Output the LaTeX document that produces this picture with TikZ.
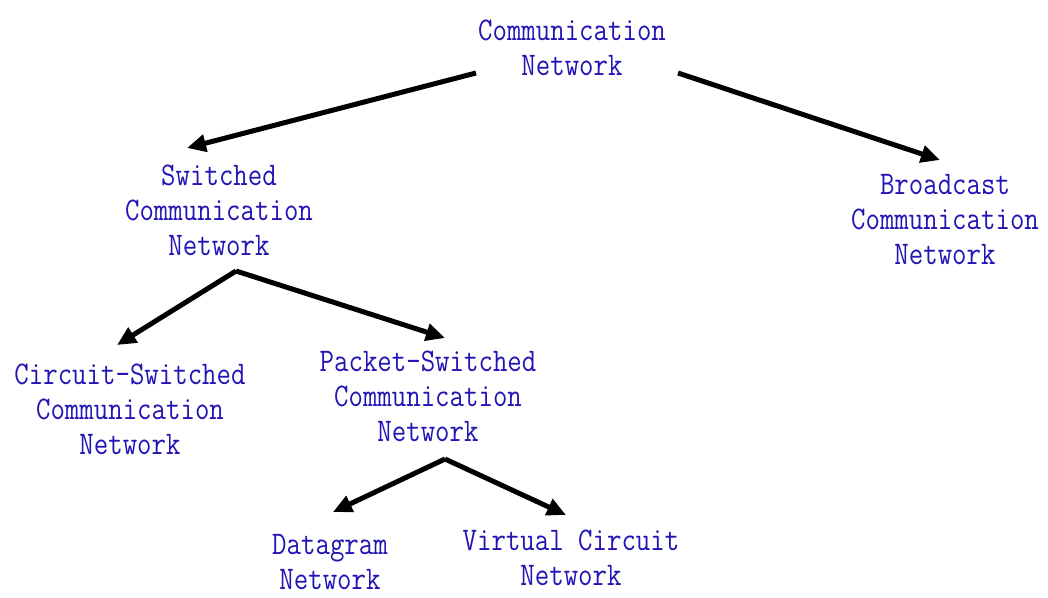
\documentclass[tikz,border=0pt]{standalone}
\usepackage{fontspec}
\newfontfamily\treefont[FakeStretch=0.85]{Latin Modern Mono}
\usetikzlibrary{arrows.meta,calc}
\definecolor{labelblue}{RGB}{35,20,180}
\begin{document}
\begin{tikzpicture}[x=1pt, y=1pt, >={Triangle[length=19pt,width=17pt]}]
      \tikzset{lbl/.style={inner sep=0, align=center, text=labelblue, font=\treefont\fontsize{33}{35}\selectfont},
               branch/.style={->, line width=5pt}}
      \useasboundingbox (0,0) rectangle (1048,597);
      \node[lbl] (comm) at (572,549) {Communication\\Network};
      \node[lbl] (switched) at (219,387) {Switched\\Communication\\Network};
      \node[lbl] (broadcast) at (945,377) {Broadcast\\Communication\\Network};
      \node[lbl] (circuit) at (130,188) {Circuit-Switched\\Communication\\Network};
      \node[lbl] (packet) at (428,201) {Packet-Switched\\Communication\\Network};
      \node[lbl] (datagram) at (330,35) {Datagram\\Network};
      \node[lbl] (virtual) at (571,39) {Virtual Circuit\\Network};
      \coordinate (swfork) at ($(switched)+(17,-61)$);
      \coordinate (pkfork) at ($(packet)+(17,-63)$);
      \draw[branch] ($(comm)+(-96,-25)$) -- ($(switched)+(-32,62)$);
      \draw[branch] ($(comm)+(106,-25)$) -- ($(broadcast)+(-5,60)$);
      \draw[branch] (swfork) -- ($(circuit)+(-13,64)$);
      \draw[branch] (swfork) -- ($(packet)+(17,58)$);
      \draw[branch] (pkfork) -- ($(datagram)+(3,50)$);
      \draw[branch] (pkfork) -- ($(virtual)+(-5,43)$);
    \end{tikzpicture}
\end{document}
